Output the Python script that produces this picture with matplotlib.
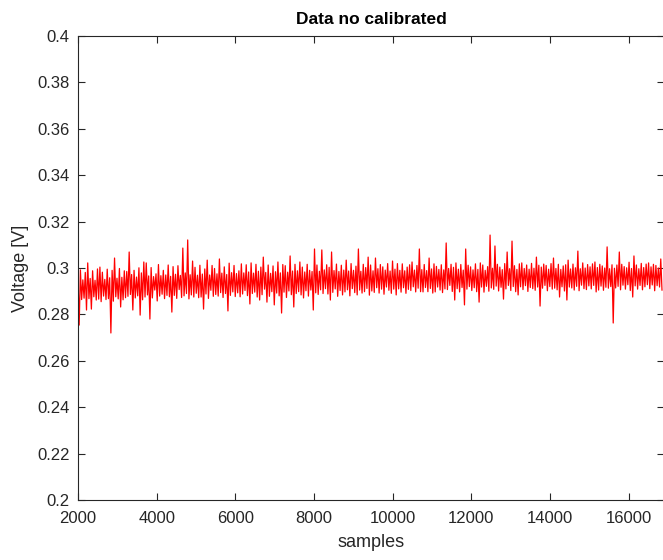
import numpy as np
import matplotlib
matplotlib.use('Agg')
import matplotlib.pyplot as plt

plt.rcParams['font.family'] = ['Liberation Sans', 'DejaVu Sans']

# envelope of the raw signal, one (high, low) pair per 62 samples
upper = [
    0.2958, 0.2992, 0.2949, 0.2981, 0.3022, 0.2955, 0.2988, 0.2947, 0.2996, 0.3004,
    0.2982, 0.2951, 0.2995, 0.2958, 0.2990, 0.3043, 0.2956, 0.2998, 0.2960, 0.2988,
    0.2985, 0.3069, 0.2972, 0.2990, 0.2961, 0.3001, 0.2979, 0.3026, 0.3022, 0.2966,
    0.3002, 0.2963, 0.2975, 0.3015, 0.2967, 0.2990, 0.2970, 0.3013, 0.2964, 0.3006,
    0.2973, 0.3010, 0.2968, 0.3086, 0.2979, 0.3121, 0.2971, 0.3030, 0.3003, 0.2969,
    0.3012, 0.2974, 0.2996, 0.3034, 0.2970, 0.3011, 0.2998, 0.2975, 0.3039, 0.2978,
    0.3005, 0.2972, 0.3021, 0.2980, 0.3011, 0.2976, 0.2988, 0.3018, 0.2979, 0.3014,
    0.2983, 0.3022, 0.2978, 0.3016, 0.2986, 0.3004, 0.3047, 0.2981, 0.3013, 0.2977,
    0.3009, 0.2984, 0.3026, 0.2979, 0.3015, 0.3010, 0.2982, 0.3052, 0.2987, 0.3016,
    0.2988, 0.3026, 0.3004, 0.2983, 0.3016, 0.2990, 0.2985, 0.3082, 0.3013, 0.2986,
    0.3078, 0.2992, 0.3014, 0.3003, 0.3069, 0.2989, 0.3017, 0.2985, 0.3012, 0.2991,
    0.3034, 0.2987, 0.3019, 0.2990, 0.3008, 0.3082, 0.2986, 0.3016, 0.3002, 0.3047,
    0.3013, 0.2988, 0.3043, 0.2997, 0.3015, 0.3005, 0.2991, 0.3019, 0.2987, 0.3030,
    0.2995, 0.3019, 0.2990, 0.3018, 0.2988, 0.3004, 0.3014, 0.3026, 0.2991, 0.3011,
    0.3082, 0.2993, 0.3015, 0.2989, 0.3043, 0.2996, 0.3018, 0.3007, 0.2994, 0.3014,
    0.2992, 0.3108, 0.2998, 0.3016, 0.3003, 0.3022, 0.2995, 0.3015, 0.2991, 0.3082,
    0.3012, 0.3005, 0.2992, 0.3018, 0.2994, 0.3022, 0.3013, 0.2990, 0.3006, 0.3142,
    0.2999, 0.3095, 0.3016, 0.3004, 0.2993, 0.3019, 0.3069, 0.2997, 0.3116, 0.3010,
    0.2994, 0.3018, 0.3022, 0.2998, 0.3013, 0.2995, 0.3020, 0.2999, 0.3047, 0.3012,
    0.3004, 0.3017, 0.3011, 0.2995, 0.3019, 0.3043, 0.2998, 0.3016, 0.2994, 0.3009,
    0.3014, 0.3034, 0.2996, 0.3017, 0.3001, 0.3073, 0.2997, 0.3022, 0.3000, 0.3015,
    0.3005, 0.3018, 0.3026, 0.3002, 0.3016, 0.3009, 0.3000, 0.3091, 0.2997, 0.3014,
    0.2999, 0.3013, 0.3069, 0.3016, 0.3006, 0.3001, 0.3025, 0.2998, 0.3052, 0.3013,
    0.2997, 0.3020, 0.3002, 0.3017, 0.3022, 0.3005, 0.3016, 0.3011, 0.3000, 0.3039,
]
lower = [
    0.2754, 0.2864, 0.2870, 0.2819, 0.2868, 0.2823, 0.2876, 0.2862, 0.2866, 0.2855,
    0.2879, 0.2864, 0.2868, 0.2720, 0.2857, 0.2876, 0.2867, 0.2832, 0.2863, 0.2872,
    0.2878, 0.2886, 0.2819, 0.2871, 0.2880, 0.2797, 0.2863, 0.2875, 0.2884, 0.2780,
    0.2871, 0.2905, 0.2858, 0.2879, 0.2887, 0.2868, 0.2882, 0.2876, 0.2810, 0.2882,
    0.2869, 0.2907, 0.2873, 0.2880, 0.2890, 0.2867, 0.2884, 0.2875, 0.2891, 0.2872,
    0.2875, 0.2823, 0.2888, 0.2869, 0.2904, 0.2878, 0.2886, 0.2879, 0.2894, 0.2873,
    0.2890, 0.2815, 0.2882, 0.2897, 0.2877, 0.2893, 0.2876, 0.2888, 0.2903, 0.2881,
    0.2845, 0.2890, 0.2896, 0.2875, 0.2862, 0.2885, 0.2909, 0.2853, 0.2878, 0.2898,
    0.2841, 0.2892, 0.2880, 0.2806, 0.2896, 0.2873, 0.2901, 0.2885, 0.2832, 0.2890,
    0.2898, 0.2884, 0.2871, 0.2902, 0.2879, 0.2905, 0.2819, 0.2893, 0.2886, 0.2906,
    0.2890, 0.2911, 0.2888, 0.2862, 0.2895, 0.2910, 0.2878, 0.2903, 0.2884, 0.2897,
    0.2906, 0.2880, 0.2911, 0.2894, 0.2884, 0.2905, 0.2892, 0.2898, 0.2912, 0.2883,
    0.2901, 0.2895, 0.2915, 0.2892, 0.2909, 0.2887, 0.2918, 0.2904, 0.2891, 0.2909,
    0.2884, 0.2910, 0.2896, 0.2915, 0.2891, 0.2908, 0.2903, 0.2919, 0.2897, 0.2913,
    0.2898, 0.2897, 0.2916, 0.2898, 0.2912, 0.2892, 0.2897, 0.2918, 0.2905, 0.2894,
    0.2910, 0.2907, 0.2925, 0.2899, 0.2862, 0.2911, 0.2897, 0.2916, 0.2841, 0.2909,
    0.2920, 0.2903, 0.2915, 0.2898, 0.2853, 0.2918, 0.2896, 0.2921, 0.2900, 0.2914,
    0.2908, 0.2922, 0.2901, 0.2917, 0.2866, 0.2910, 0.2925, 0.2903, 0.2920, 0.2898,
    0.2884, 0.2919, 0.2907, 0.2924, 0.2899, 0.2916, 0.2911, 0.2904, 0.2918, 0.2836,
    0.2913, 0.2925, 0.2902, 0.2920, 0.2909, 0.2913, 0.2906, 0.2875, 0.2919, 0.2901,
    0.2862, 0.2918, 0.2914, 0.2905, 0.2921, 0.2902, 0.2926, 0.2911, 0.2907, 0.2923,
    0.2910, 0.2925, 0.2897, 0.2905, 0.2922, 0.2904, 0.2917, 0.2913, 0.2920, 0.2763,
    0.2914, 0.2921, 0.2906, 0.2926, 0.2909, 0.2928, 0.2903, 0.2875, 0.2923, 0.2909,
    0.2925, 0.2906, 0.2919, 0.2928, 0.2911, 0.2927, 0.2902, 0.2924, 0.2918, 0.2905,
]

start = 2000
step = 62
x_ticks = [2000, 4000, 6000, 8000, 10000, 12000, 14000, 16000]
y_ticks = [0.2, 0.22, 0.24, 0.26, 0.28, 0.3, 0.32, 0.34, 0.36, 0.38, 0.4]
y_labels = ['0.2', '0.22', '0.24', '0.26', '0.28', '0.3', '0.32', '0.34', '0.36', '0.38', '0.4']

# interleave the pairs into one zigzag trace
samples = []
volts = []
for i, (hi, lo) in enumerate(zip(upper, lower)):
    samples += [start + step * i, start + step * i + step // 2]
    volts += [hi, lo]

fig = plt.figure(figsize=(6.63, 5.6), dpi=100)
ax = fig.add_axes([0.1176, 0.1071, 0.8839, 0.8286])
ax.plot(samples, volts, color='red', lw=0.9)

ax.set_xlim(2000, 16900)
ax.set_ylim(0.2, 0.4)
ax.set_xticks(x_ticks)
ax.set_xticklabels([str(t) for t in x_ticks])
ax.set_yticks(y_ticks)
ax.set_yticklabels(y_labels)

dark = '#262626'
for s in ax.spines.values():
    s.set_color(dark)
    s.set_linewidth(0.8)
ax.tick_params(direction='in', length=5, width=0.8, color=dark, labelcolor=dark,
               labelsize=12, top=True, right=True)
ax.tick_params(axis='y', pad=6)
ax.tick_params(axis='x', pad=8)

ax.set_title('Data no calibrated', fontsize=12.5, fontweight='bold', color='black', pad=9)
ax.set_xlabel('samples', fontsize=13, color=dark, labelpad=6)
ax.set_ylabel('Voltage [V]', fontsize=13, color=dark, labelpad=6)

fig.savefig('out.png', dpi=100)
